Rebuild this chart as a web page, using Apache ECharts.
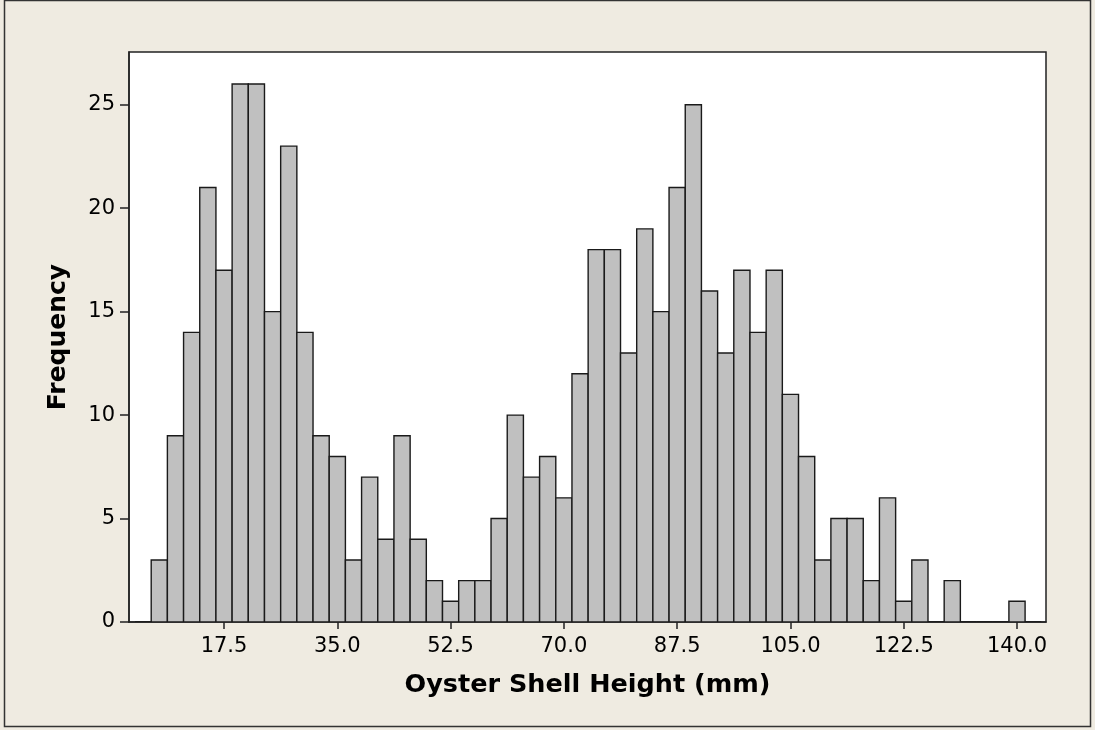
<!DOCTYPE html>
<html>
<head>
<meta charset="utf-8">
<script src="https://cdn.jsdelivr.net/npm/echarts@6/dist/echarts.min.js"></script>
<style>
  html, body { margin: 0; padding: 0; background: #EFEBE1; }
  #chart { width: 1095px; height: 730px; }
</style>
</head>
<body>
<div id="chart"></div>
<script>
// Bin centers (mm), bin width 2.5
const binCenters = [5.0, 7.5, 10.0, 12.5, 15.0, 17.5, 20.0, 22.5, 25.0, 27.5,
  30.0, 32.5, 35.0, 37.5, 40.0, 42.5, 45.0, 47.5, 50.0, 52.5,
  55.0, 57.5, 60.0, 62.5, 65.0, 67.5, 70.0, 72.5, 75.0, 77.5,
  80.0, 82.5, 85.0, 87.5, 90.0, 92.5, 95.0, 97.5, 100.0, 102.5,
  105.0, 107.5, 110.0, 112.5, 115.0, 117.5, 120.0, 122.5, 125.0, 127.5,
  130.0, 132.5, 135.0, 137.5, 140.0, 142.5];
const frequencies = [0, 3, 9, 14, 21, 17, 26, 26, 15, 23,
  14, 9, 8, 3, 7, 4, 9, 4, 2, 1,
  2, 2, 5, 10, 7, 8, 6, 12, 18, 18,
  13, 19, 15, 21, 25, 16, 13, 17, 14, 17,
  11, 8, 3, 5, 5, 2, 6, 1, 3, 0,
  2, 0, 0, 0, 1, 0];
const binWidth = 2.5;
const xTickValues = [17.5, 35.0, 52.5, 70.0, 87.5, 105.0, 122.5, 140.0];
const yTickInterval = 5;

const data = binCenters.map((c, i) => [c - binWidth / 2, c + binWidth / 2, frequencies[i]]);

const chart = echarts.init(document.getElementById('chart'), null, { renderer: 'canvas' });
const tickFont = { fontFamily: 'DejaVu Sans', fontSize: 21, color: '#000' };
chart.setOption({
  backgroundColor: '#EFEBE1',
  animation: false,
  graphic: [{
    type: 'rect', silent: true, z: -1,
    shape: { x: 4.5, y: 0.5, width: 1086, height: 726 },
    style: { fill: 'none', stroke: '#333', lineWidth: 1.5 }
  }],
  grid: {
    left: 129, right: 49, top: 52, bottom: 108,
    show: true, backgroundColor: '#FFFFFF', borderColor: '#222', borderWidth: 1.5
  },
  xAxis: {
    type: 'value', min: 2.82, max: 144.48,
    name: 'Oyster Shell Height (mm)', nameLocation: 'middle', nameGap: 50,
    nameTextStyle: { fontFamily: 'DejaVu Sans', fontWeight: 'bold', fontSize: 25.5, color: '#000' },
    axisLine: { show: true, onZero: false, lineStyle: { color: '#222', width: 1.5 } },
    axisTick: { show: true, length: 7, customValues: xTickValues, lineStyle: { color: '#222', width: 1.5 } },
    axisLabel: Object.assign({ margin: 14, customValues: xTickValues,
      formatter: v => Number(v).toFixed(1) }, tickFont),
    splitLine: { show: false }
  },
  yAxis: {
    type: 'value', min: 0, max: 27.55, interval: yTickInterval,
    name: 'Frequency', nameLocation: 'middle', nameGap: 58,
    nameTextStyle: { fontFamily: 'DejaVu Sans', fontWeight: 'bold', fontSize: 25, color: '#000' },
    axisLine: { show: true, lineStyle: { color: '#222', width: 1.5 } },
    axisTick: { show: true, length: 9, lineStyle: { color: '#222', width: 1.5 } },
    axisLabel: Object.assign({ margin: 14, showMaxLabel: false }, tickFont),
    splitLine: { show: false }
  },
  series: [{
    type: 'custom',
    data: data,
    encode: { x: [0, 1], y: 2 },
    clip: true,
    renderItem: function (params, api) {
      const x0 = api.value(0), x1 = api.value(1), v = api.value(2);
      const p0 = api.coord([x0, 0]);
      const p1 = api.coord([x1, v]);
      if (v === 0) {
        return {
          type: 'line',
          shape: { x1: p0[0], y1: p0[1], x2: p1[0], y2: p0[1] },
          style: { stroke: '#1a1a1a', lineWidth: 1.5 }
        };
      }
      return {
        type: 'rect',
        shape: { x: p0[0], y: p1[1], width: p1[0] - p0[0], height: p0[1] - p1[1] },
        style: { fill: '#C0C0C0', stroke: '#1a1a1a', lineWidth: 1.4 }
      };
    }
  }]
});
</script>
</body>
</html>
